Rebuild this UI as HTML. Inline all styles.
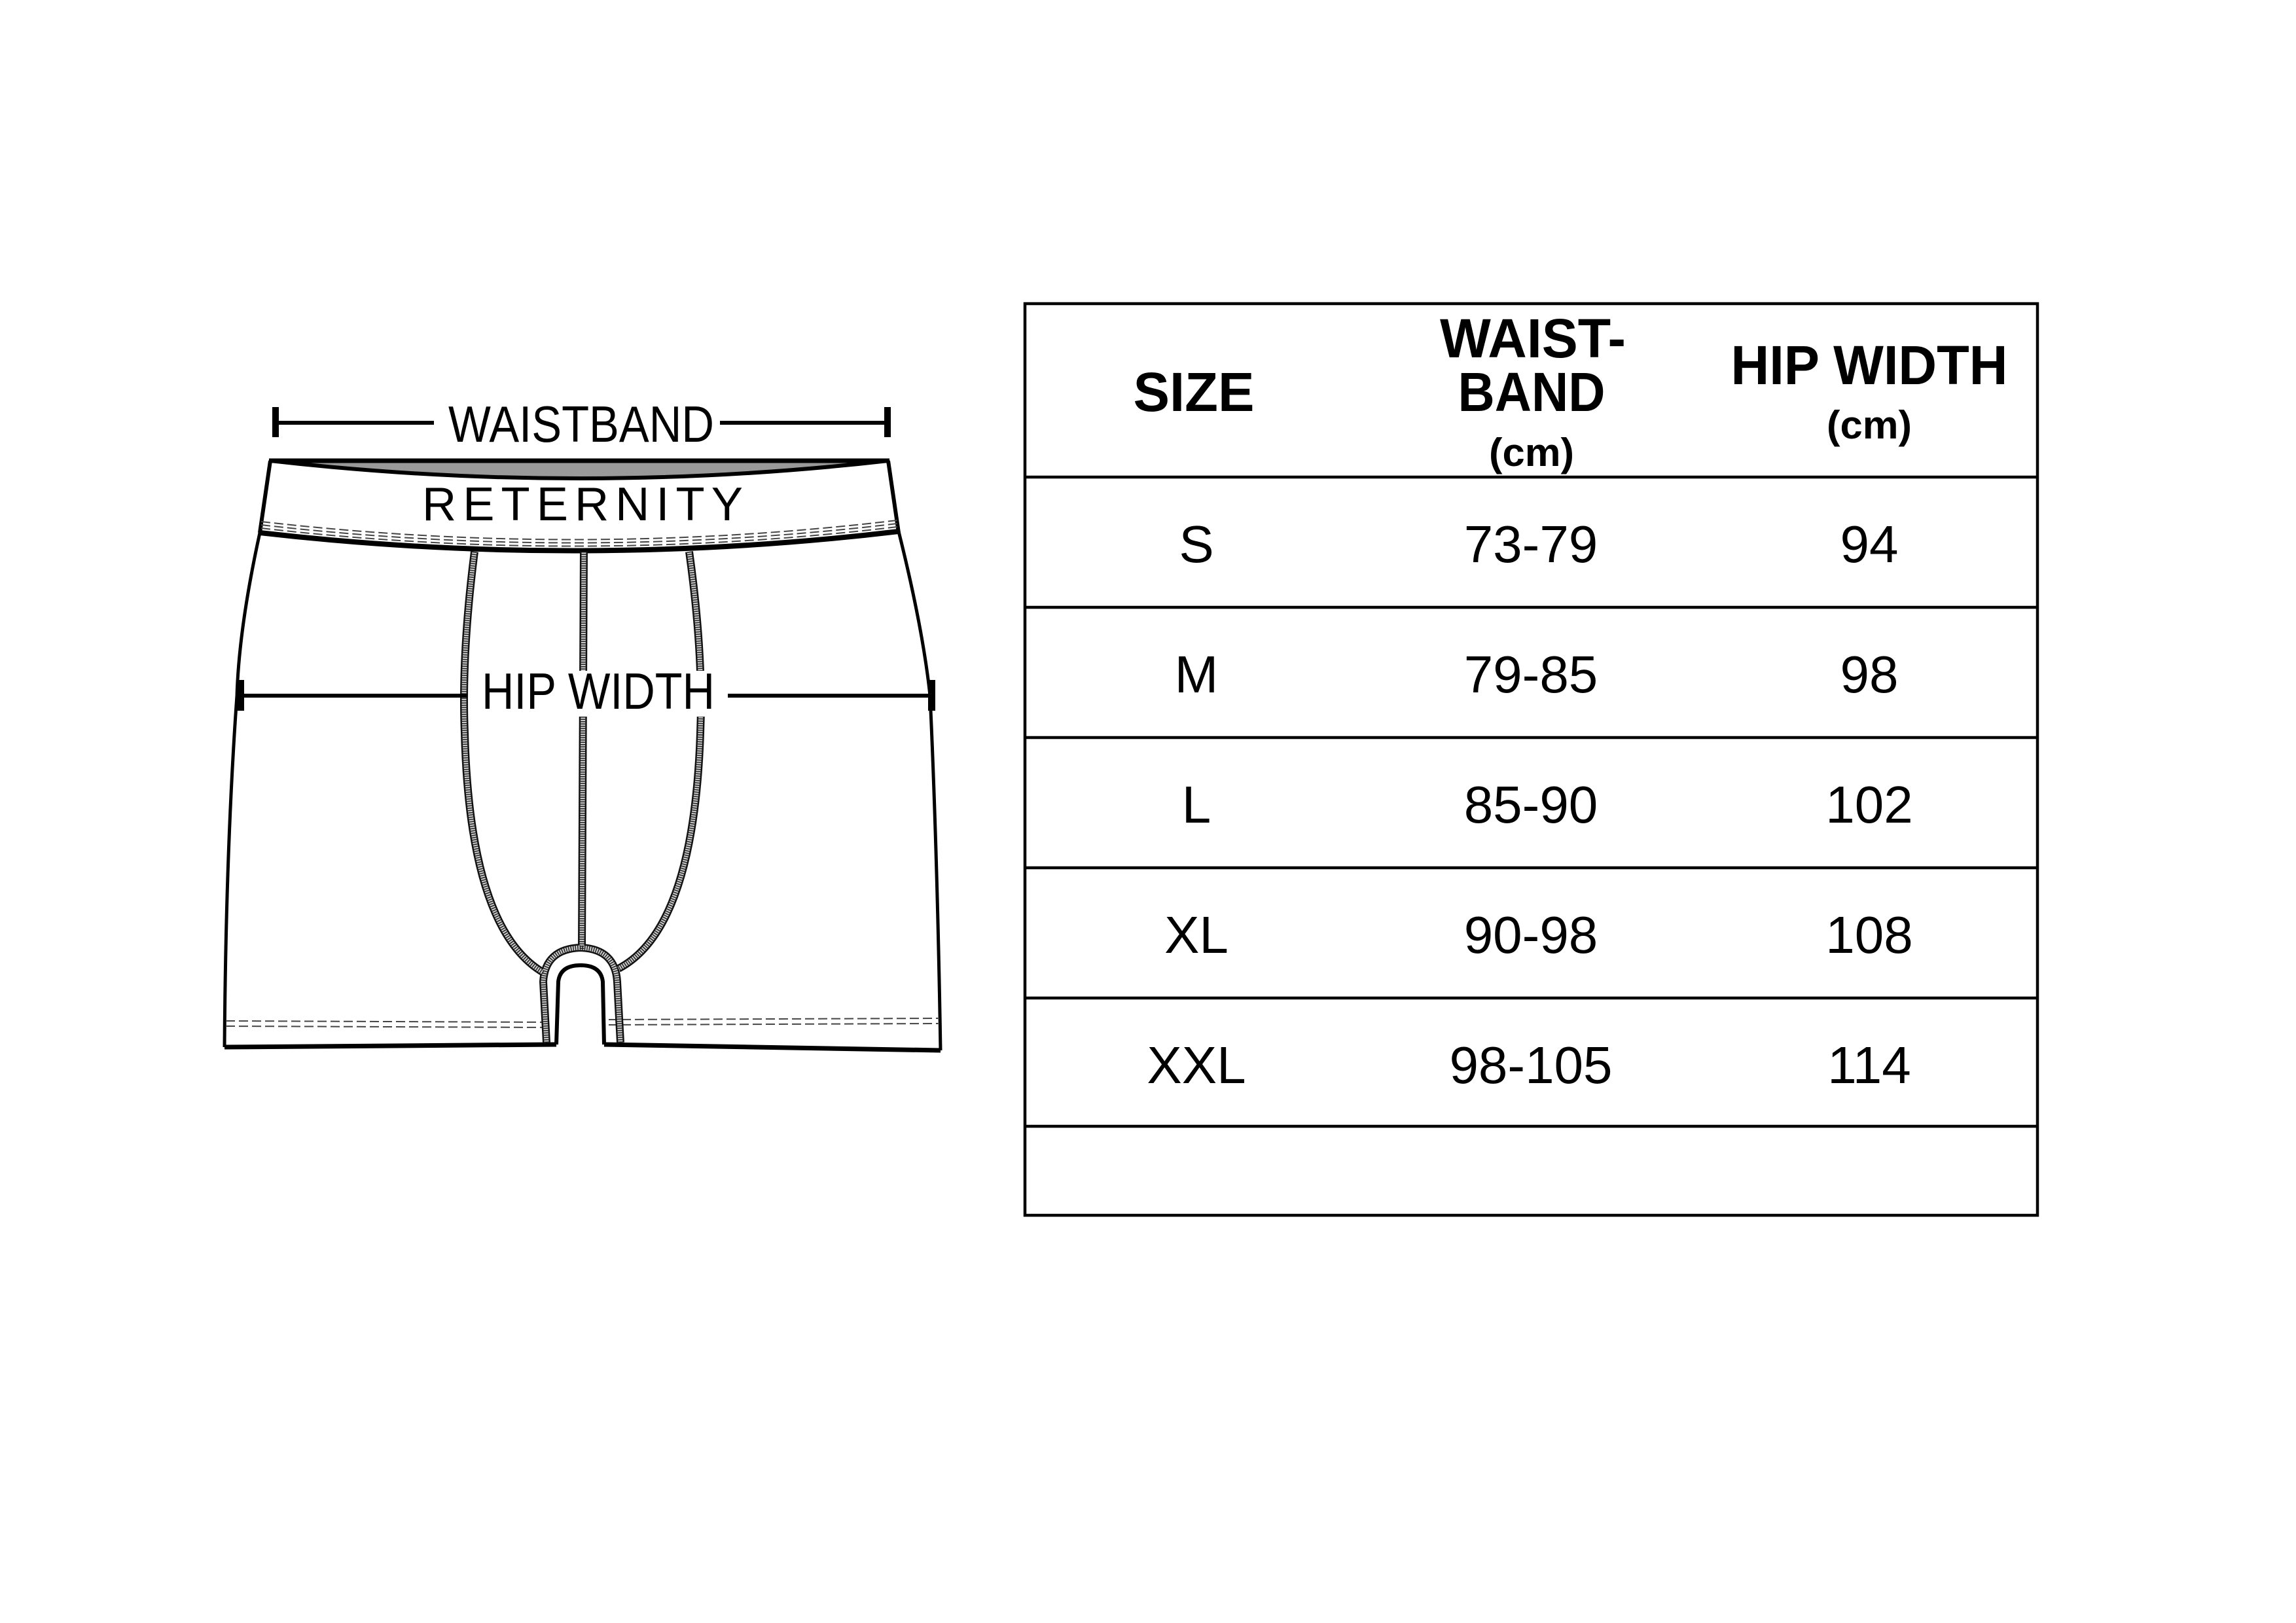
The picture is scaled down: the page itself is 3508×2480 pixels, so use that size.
<!DOCTYPE html>
<html><head><meta charset="utf-8"><style>
html,body{margin:0;padding:0;background:#fff;}
svg{display:block;}
text{font-family:"Liberation Sans",Arial,sans-serif;fill:#000;}
</style></head><body>
<svg width="3508" height="2480" viewBox="0 0 3508 2480" xmlns="http://www.w3.org/2000/svg">
<rect width="3508" height="2480" fill="#fff"/>

<!-- ===== Shorts drawing ===== -->
<path d="M413,704 L1357,704 Q885,760 413,704 Z" fill="#999"/>
<path d="M413,704 Q885,758 1357,704" fill="none" stroke="#000" stroke-width="6"/>
<line x1="411" y1="704" x2="1359" y2="704" stroke="#000" stroke-width="7"/>
<line x1="413" y1="704" x2="397" y2="814" stroke="#000" stroke-width="6"/>
<line x1="1357" y1="704" x2="1373" y2="814" stroke="#000" stroke-width="6"/>
<path d="M397,814 Q885,870 1373,812" fill="none" stroke="#000" stroke-width="8"/>
<g fill="none" stroke="#444" stroke-width="2" stroke-dasharray="14 6">
<path d="M399,797 Q885,853 1371,795"/>
<path d="M399,802 Q885,858 1371,800"/>
<path d="M399,807 Q885,863 1371,805"/>
</g>
<text x="895" y="795" font-size="72" text-anchor="middle" textLength="500" lengthAdjust="spacingAndGlyphs" letter-spacing="10">RETERNITY</text>

<path d="M397,814 Q365,960 362,1063 Q345,1300 343,1600" fill="none" stroke="#000" stroke-width="5"/>
<path d="M1373,812 Q1410,960 1421,1063 Q1432,1300 1437,1605" fill="none" stroke="#000" stroke-width="5"/>
<line x1="343" y1="1600" x2="850" y2="1596" stroke="#000" stroke-width="7"/>
<line x1="923" y1="1596" x2="1437" y2="1605" stroke="#000" stroke-width="7"/>
<g fill="none" stroke="#444" stroke-width="2" stroke-dasharray="14 6">
<line x1="345" y1="1560" x2="840" y2="1562"/>
<line x1="345" y1="1568" x2="845" y2="1570"/>
<line x1="930" y1="1558" x2="1435" y2="1556"/>
<line x1="930" y1="1566" x2="1435" y2="1564"/>
</g>
<path d="M850,1596 L853,1500 Q856,1475 887,1475 Q918,1475 921,1500 L923,1596" fill="none" stroke="#000" stroke-width="6"/>

<g fill="none">
<g stroke="#111" stroke-width="12">
<path d="M725,843 Q705,1000 710,1120 Q718,1420 830,1486"/>
<path d="M892,843 L889,1450"/>
<path d="M1053,843 Q1075,1000 1070,1120 Q1060,1420 945,1480"/>
<path d="M835,1593 L830,1500 Q833,1450 887,1448 Q940,1450 943,1500 L948,1593"/>
</g>
<g stroke="#ccc" stroke-width="7">
<path d="M725,843 Q705,1000 710,1120 Q718,1420 830,1486"/>
<path d="M892,843 L889,1450"/>
<path d="M1053,843 Q1075,1000 1070,1120 Q1060,1420 945,1480"/>
<path d="M835,1593 L830,1500 Q833,1450 887,1448 Q940,1450 943,1500 L948,1593"/>
</g>
<g stroke="#222" stroke-width="7" stroke-dasharray="1.5 2">
<path d="M725,843 Q705,1000 710,1120 Q718,1420 830,1486"/>
<path d="M892,843 L889,1450"/>
<path d="M1053,843 Q1075,1000 1070,1120 Q1060,1420 945,1480"/>
<path d="M835,1593 L830,1500 Q833,1450 887,1448 Q940,1450 943,1500 L948,1593"/>
</g>
</g>

<!-- WAISTBAND dimension -->
<rect x="416" y="622" width="10" height="46" fill="#000"/>
<rect x="1351" y="622" width="10" height="46" fill="#000"/>
<line x1="421" y1="646" x2="663" y2="646" stroke="#000" stroke-width="6"/>
<line x1="1100" y1="646" x2="1356" y2="646" stroke="#000" stroke-width="6"/>
<text x="888" y="675" font-size="78" text-anchor="middle" textLength="406" lengthAdjust="spacingAndGlyphs">WAISTBAND</text>

<!-- HIP WIDTH dimension -->
<rect x="362" y="1039" width="11" height="47" fill="#000"/>
<rect x="1418" y="1039" width="11" height="47" fill="#000"/>
<line x1="370" y1="1063" x2="714" y2="1063" stroke="#000" stroke-width="6"/>
<line x1="1112" y1="1063" x2="1424" y2="1063" stroke="#000" stroke-width="6"/>
<rect x="720" y="1025" width="385" height="70" fill="#fff"/>
<text x="914" y="1083" font-size="78" text-anchor="middle" textLength="356" lengthAdjust="spacingAndGlyphs">HIP WIDTH</text>

<!-- ===== Table ===== -->
<rect x="1566" y="464" width="1547" height="1393" fill="none" stroke="#000" stroke-width="4.5"/>
<g stroke="#000" stroke-width="4.5">
<line x1="1566" y1="729" x2="3113" y2="729"/>
<line x1="1566" y1="928" x2="3113" y2="928"/>
<line x1="1566" y1="1127" x2="3113" y2="1127"/>
<line x1="1566" y1="1326" x2="3113" y2="1326"/>
<line x1="1566" y1="1525" x2="3113" y2="1525"/>
<line x1="1566" y1="1721" x2="3113" y2="1721"/>
</g>
<g font-weight="bold" text-anchor="middle">
<text x="1824" y="628" font-size="84" textLength="185" lengthAdjust="spacingAndGlyphs">SIZE</text>
<text x="2342" y="546" font-size="84" textLength="284" lengthAdjust="spacingAndGlyphs">WAIST-</text>
<text x="2340" y="628" font-size="84" textLength="225" lengthAdjust="spacingAndGlyphs">BAND</text>
<text x="2340" y="712" font-size="60" textLength="130" lengthAdjust="spacingAndGlyphs">(cm)</text>
<text x="2856" y="587" font-size="84" textLength="423" lengthAdjust="spacingAndGlyphs">HIP WIDTH</text>
<text x="2856" y="670" font-size="60" textLength="130" lengthAdjust="spacingAndGlyphs">(cm)</text>
</g>
<g font-size="80" text-anchor="middle">
<text x="1828" y="859">S</text><text x="2339" y="859">73-79</text><text x="2856" y="859">94</text>
<text x="1828" y="1058">M</text><text x="2339" y="1058">79-85</text><text x="2856" y="1058">98</text>
<text x="1828" y="1257">L</text><text x="2339" y="1257">85-90</text><text x="2856" y="1257">102</text>
<text x="1828" y="1456">XL</text><text x="2339" y="1456">90-98</text><text x="2856" y="1456">108</text>
<text x="1828" y="1655">XXL</text><text x="2339" y="1655">98-105</text><text x="2856" y="1655">114</text>
</g>
</svg>
</body></html>
